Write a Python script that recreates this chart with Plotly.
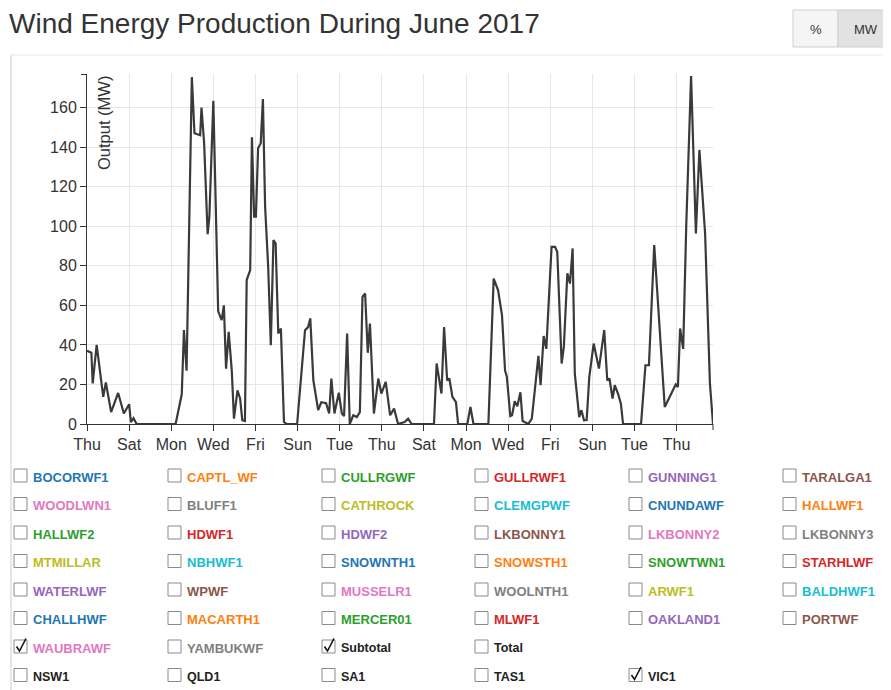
import plotly.graph_objects as go

# ---------------- data ----------------
times = [
    "2017-06-01 00:00", "2017-06-01 05:00", "2017-06-01 06:30", "2017-06-01 11:00", "2017-06-01 18:30",
    "2017-06-01 21:30", "2017-06-02 03:30", "2017-06-02 11:30", "2017-06-02 18:00", "2017-06-03 00:00",
    "2017-06-03 02:00", "2017-06-03 05:00", "2017-06-03 08:30", "2017-06-05 05:00", "2017-06-05 12:00",
    "2017-06-05 14:30", "2017-06-05 17:30", "2017-06-05 23:30", "2017-06-06 02:30", "2017-06-06 09:00",
    "2017-06-06 10:30", "2017-06-06 13:30", "2017-06-06 17:30", "2017-06-06 19:30", "2017-06-07 00:00",
    "2017-06-07 04:00", "2017-06-07 05:30", "2017-06-07 09:30", "2017-06-07 12:00", "2017-06-07 14:30",
    "2017-06-07 17:30", "2017-06-07 21:00", "2017-06-07 23:30", "2017-06-08 03:30", "2017-06-08 06:30",
    "2017-06-08 09:00", "2017-06-08 12:00", "2017-06-08 14:00", "2017-06-08 18:00", "2017-06-08 20:00",
    "2017-06-08 22:30", "2017-06-09 00:30", "2017-06-09 03:00", "2017-06-09 06:00", "2017-06-09 08:30",
    "2017-06-09 11:00", "2017-06-09 14:30", "2017-06-09 17:30", "2017-06-09 20:30", "2017-06-09 23:00",
    "2017-06-10 02:00", "2017-06-10 05:00", "2017-06-10 08:30", "2017-06-10 11:30", "2017-06-10 23:30",
    "2017-06-11 08:30", "2017-06-11 12:00", "2017-06-11 14:30", "2017-06-11 18:00", "2017-06-11 23:30",
    "2017-06-12 03:00", "2017-06-12 08:30", "2017-06-12 12:00", "2017-06-12 14:30", "2017-06-12 18:00",
    "2017-06-12 23:00", "2017-06-13 02:30", "2017-06-13 05:00", "2017-06-13 08:30", "2017-06-13 11:30",
    "2017-06-13 15:30", "2017-06-13 19:30", "2017-06-13 23:00", "2017-06-14 02:00", "2017-06-14 05:00",
    "2017-06-14 08:00", "2017-06-14 10:30", "2017-06-14 15:00", "2017-06-14 20:00", "2017-06-14 23:30",
    "2017-06-15 04:30", "2017-06-15 09:30", "2017-06-15 14:00", "2017-06-15 18:30", "2017-06-16 02:00",
    "2017-06-16 06:00", "2017-06-16 10:00", "2017-06-17 11:30", "2017-06-17 14:30", "2017-06-17 20:00",
    "2017-06-17 23:00", "2017-06-18 02:30", "2017-06-18 05:00", "2017-06-18 08:30", "2017-06-18 12:30",
    "2017-06-18 15:00", "2017-06-19 01:30", "2017-06-19 05:00", "2017-06-19 08:30", "2017-06-20 01:30",
    "2017-06-20 07:30", "2017-06-20 12:30", "2017-06-20 17:00", "2017-06-20 20:30", "2017-06-20 22:30",
    "2017-06-21 02:30", "2017-06-21 04:30", "2017-06-21 07:30", "2017-06-21 10:30", "2017-06-21 14:00",
    "2017-06-21 16:30", "2017-06-21 23:00", "2017-06-22 03:00", "2017-06-22 10:30", "2017-06-22 13:00",
    "2017-06-22 16:30", "2017-06-22 19:30", "2017-06-23 01:30", "2017-06-23 05:30", "2017-06-23 08:00",
    "2017-06-23 13:00", "2017-06-23 15:30", "2017-06-23 19:30", "2017-06-23 22:30", "2017-06-24 01:30",
    "2017-06-24 04:00", "2017-06-24 09:00", "2017-06-24 11:30", "2017-06-24 14:30", "2017-06-24 17:30",
    "2017-06-24 20:30", "2017-06-25 01:30", "2017-06-25 07:30", "2017-06-25 13:30", "2017-06-25 17:00",
    "2017-06-25 19:30", "2017-06-25 23:00", "2017-06-26 01:30", "2017-06-26 05:30", "2017-06-26 08:30",
    "2017-06-26 11:00", "2017-06-27 07:30", "2017-06-27 12:30", "2017-06-27 16:30", "2017-06-27 22:30",
    "2017-06-28 10:30", "2017-06-28 20:30", "2017-06-28 23:00", "2017-06-29 01:30", "2017-06-29 04:00",
    "2017-06-29 07:30", "2017-06-29 11:00", "2017-06-29 16:30", "2017-06-29 22:00", "2017-06-30 02:00",
    "2017-06-30 08:30", "2017-06-30 14:00", "2017-06-30 17:30",
]
subtotal_mw = [
    37, 36, 20.5, 40, 13.7,
    21, 6, 15.7, 5.3, 10,
    1, 3, 0, 0, 15,
    47.5, 27, 175.4, 147, 146,
    160, 142, 96, 105, 163.5,
    85, 57, 52.5, 60, 28,
    46.6, 27, 2.7, 17, 12.9,
    1.9, 1.5, 72.8, 77.8, 145,
    104.8, 104.8, 139.4, 142, 164.3,
    110, 79.5, 39.8, 93, 91.3,
    45.8, 48.3, 1, 0, 0,
    47.4, 49, 53.4, 22, 7,
    11, 10.5, 5.3, 23, 5.3,
    15.8, 5.3, 4, 45.8, 0,
    4.4, 3.5, 6, 64.3, 66,
    36, 50.8, 5.3, 23, 15.4,
    21.3, 4.4, 7.8, 0, 1,
    2.7, 0, 0, 30.6, 15.4,
    49, 22, 23, 13.7, 11,
    0, 0, 8.6, 0, 0,
    73.5, 67.7, 55, 27, 24,
    4, 4.4, 11.5, 9, 16,
    1.5, 0, 2.7, 34.5, 19.6,
    44.5, 38, 89.6, 89.6, 87,
    30.6, 39, 76.2, 71, 88.8,
    25.5, 3.5, 7, 1.9, 2,
    23.8, 40.7, 28, 47.5, 22,
    23, 12.8, 19.6, 15, 10.3,
    0, 0, 29.7, 29.7, 90.5,
    8.6, 17.9, 20, 18.7, 48.3,
    38, 100, 176, 96.4, 138.6,
    96.4, 20.5, 0,
]
y_ticks = [0, 20, 40, 60, 80, 100, 120, 140, 160]

stations = [
    "BOCORWF1", "CAPTL_WF", "CULLRGWF", "GULLRWF1", "GUNNING1", "TARALGA1",
    "WOODLWN1", "BLUFF1", "CATHROCK", "CLEMGPWF", "CNUNDAWF", "HALLWF1",
    "HALLWF2", "HDWF1", "HDWF2", "LKBONNY1", "LKBONNY2", "LKBONNY3",
    "MTMILLAR", "NBHWF1", "SNOWNTH1", "SNOWSTH1", "SNOWTWN1", "STARHLWF",
    "WATERLWF", "WPWF", "MUSSELR1", "WOOLNTH1", "ARWF1", "BALDHWF1",
    "CHALLHWF", "MACARTH1", "MERCER01", "MLWF1", "OAKLAND1", "PORTWF",
    "WAUBRAWF", "YAMBUKWF",
]
totals = ["Subtotal", "Total"]
regions = ["NSW1", "QLD1", "SA1", "TAS1", "VIC1"]
checked = ["WAUBRAWF", "Subtotal", "VIC1"]

# ---------------- style / layout helpers ----------------
palette = ["#1f77b4", "#ff7f0e", "#2ca02c", "#d62728", "#9467bd",
           "#8c564b", "#e377c2", "#7f7f7f", "#bcbd22", "#17becf"]
FONT = "Liberation Sans, Arial, Helvetica, sans-serif"
OFF = 8                      # page body margin
W, H = 891 - OFF, 690 - OFF  # figure size
# plot area in page pixels
PL, PR, PT, PB = 87, 713, 74, 424
L, R, T, B = PL - OFF, PR - OFF, PT - OFF, PB - OFF


def px(x):
    """page pixel x -> paper x"""
    return (x - PL) / (PR - PL)


def py(y):
    """page pixel y -> paper y"""
    return (PB - y) / (PB - PT)


fig = go.Figure()
fig.add_trace(go.Scatter(
    x=times, y=subtotal_mw, mode="lines",
    line=dict(color="#3a3a3a", width=2.2), hoverinfo="x+y", showlegend=False,
))

shapes = []
annotations = []

# panel border
shapes.append(dict(type="line", xref="paper", yref="paper", x0=px(11), x1=px(900),
                   y0=py(55), y1=py(55), line=dict(color="#e8e8e8", width=1), layer="below"))
shapes.append(dict(type="line", xref="paper", yref="paper", x0=px(11), x1=px(11),
                   y0=py(55), y1=py(700), line=dict(color="#dedede", width=1.5), layer="below"))

# outer ticks of the axis domains
shapes.append(dict(type="line", xref="paper", yref="paper", x0=px(81), x1=px(87),
                   y0=py(74.5), y1=py(74.5), line=dict(color="#333", width=1)))
shapes.append(dict(type="line", xref="paper", yref="paper", x0=px(713), x1=px(713),
                   y0=py(424), y1=py(430), line=dict(color="#333", width=1)))

# title
annotations.append(dict(text="Wind Energy Production During June 2017", xref="paper", yref="paper",
                        x=px(7), y=py(23), xanchor="left", yanchor="middle", showarrow=False,
                        font=dict(family=FONT, size=28, color="#333")))

# y axis title (inside plot)
annotations.append(dict(text="Output (MW)", xref="paper", yref="paper", textangle=-90,
                        x=px(93), y=py(74), xanchor="left", yanchor="top", showarrow=False,
                        font=dict(family=FONT, size=16.5, color="#333")))

# % / MW buttons
shapes.append(dict(type="rect", xref="paper", yref="paper", x0=px(793), x1=px(838),
                   y0=py(10), y1=py(47), fillcolor="#f5f5f5", line=dict(color="#cfcfcf", width=1)))
shapes.append(dict(type="rect", xref="paper", yref="paper", x0=px(838), x1=px(900),
                   y0=py(10), y1=py(47), fillcolor="#e2e2e2", line=dict(color="#cfcfcf", width=1)))
annotations.append(dict(text="%", xref="paper", yref="paper", x=px(815.5), y=py(29),
                        xanchor="center", yanchor="middle", showarrow=False,
                        font=dict(family=FONT, size=13, color="#333")))
annotations.append(dict(text="MW", xref="paper", yref="paper", x=px(866), y=py(29),
                        xanchor="center", yanchor="middle", showarrow=False,
                        font=dict(family=FONT, size=13, color="#333")))

# checkbox legend
col_left = [14, 168, 322, 475, 629, 783]
row_top = [469, 497.5, 526, 554.5, 583, 611.5, 640, 668.5]


def add_item(name, row, col, color, size):
    x0 = col_left[col]
    t = row_top[row]
    shapes.append(dict(type="rect", xref="paper", yref="paper", x0=px(x0), x1=px(x0 + 13),
                       y0=py(t), y1=py(t + 13), fillcolor="white",
                       line=dict(color="#8a8a8a", width=1)))
    if name in checked:
        path = "M {:.5f},{:.5f} L {:.5f},{:.5f} L {:.5f},{:.5f}".format(
            px(x0 + 2.5), py(t + 6.5), px(x0 + 5.5), py(t + 11), px(x0 + 12), py(t - 1.5))
        shapes.append(dict(type="path", xref="paper", yref="paper", path=path,
                           line=dict(color="#111", width=1.6)))
    annotations.append(dict(text="<b>" + name + "</b>", xref="paper", yref="paper",
                            x=px(x0 + 17), y=py(t + 8), xanchor="left", yanchor="middle",
                            showarrow=False, font=dict(family=FONT, size=size, color=color)))


for i, name in enumerate(stations):
    add_item(name, i // 6, i % 6, palette[i % len(palette)], 13)
for j, name in enumerate(totals):
    add_item(name, 6, 2 + j, "#222", 12.5)
for j, name in enumerate(regions):
    add_item(name, 7, j, "#222", 12.5)

fig.update_layout(
    width=W, height=H,
    margin=dict(l=L, r=W - R, t=T, b=H - B, pad=0),
    paper_bgcolor="white", plot_bgcolor="white",
    showlegend=False,
    xaxis=dict(
        type="date", range=[times[0], times[-1]],
        tick0="2017-06-01", dtick=2 * 86400000, tickformat="%a",
        showgrid=True, gridcolor="#e6e6e6", gridwidth=1,
        showline=True, linecolor="#333", linewidth=1,
        ticks="outside", ticklen=6, tickcolor="#333",
        tickfont=dict(family=FONT, size=16, color="#333"),
        zeroline=False, fixedrange=True,
    ),
    yaxis=dict(
        range=[0, 177], tickvals=y_ticks,
        showgrid=True, gridcolor="#e6e6e6", gridwidth=1,
        showline=True, linecolor="#333", linewidth=1,
        ticks="outside", ticklen=6, tickcolor="#333",
        tickfont=dict(family=FONT, size=16, color="#333"),
        zeroline=False, fixedrange=True,
    ),
    shapes=shapes,
    annotations=annotations,
)

fig.write_html("out.html")
